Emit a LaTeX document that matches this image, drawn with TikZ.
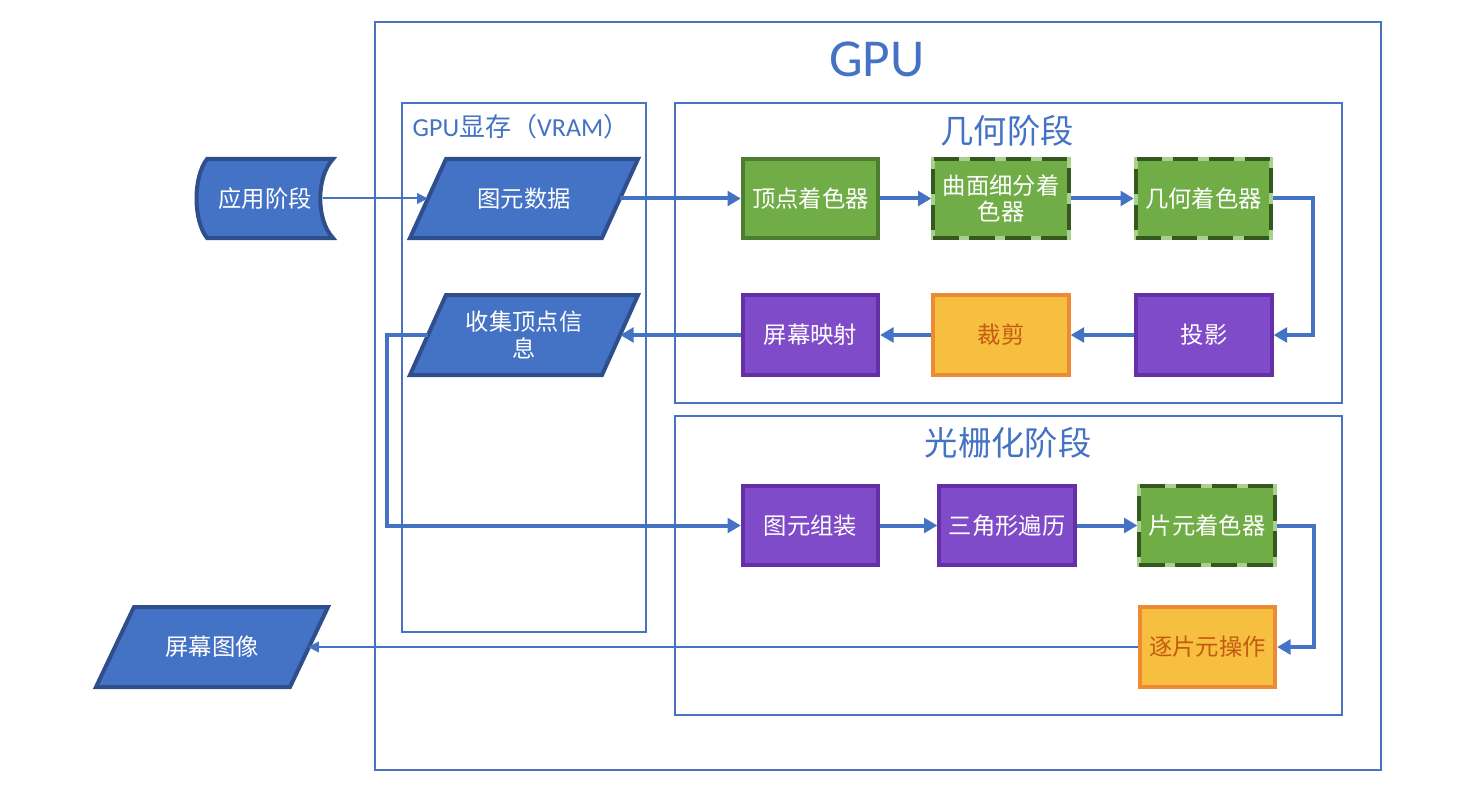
\documentclass[tikz,border=0pt]{standalone}
\usepackage{fontspec}
\setmainfont{Noto Sans CJK SC}
\newfontfamily\lat{Carlito}
\usetikzlibrary{arrows.meta}
\definecolor{frameblue}{HTML}{4A72C0}
\definecolor{arrblue}{HTML}{4472C4}
\definecolor{bfill}{HTML}{4472C4}
\definecolor{bdraw}{HTML}{2F4F8C}
\definecolor{gfill}{HTML}{70AD47}
\definecolor{gdraw}{HTML}{4E7D32}
\definecolor{gdash}{HTML}{35581F}
\definecolor{glight}{HTML}{A9D18E}
\definecolor{pfill}{HTML}{804BC8}
\definecolor{pdraw}{HTML}{6530A5}
\definecolor{ofill}{HTML}{F6BF3F}
\definecolor{odraw}{HTML}{EC8A35}
\definecolor{otext}{HTML}{C55A11}
\tikzset{
  frame/.style={draw=frameblue,line width=1.1pt},
  boxfont/.style={font=\fontsize{17.5}{20}\selectfont},
  stagebox/.style={rectangle,minimum width=101.5pt,minimum height=59.5pt,line width=3pt,
    align=center,boxfont,inner sep=1pt},
  greenbox/.style={stagebox,fill=gfill,draw=gdraw,text=white},
  greendash/.style={stagebox,fill=gfill,draw=glight,text=white,
    postaction={draw=gdash,line width=3pt,dash pattern=on 19pt off 8pt}},
  purplebox/.style={stagebox,fill=pfill,draw=pdraw,text=white},
  orangebox/.style={stagebox,fill=ofill,draw=odraw,text=otext},
  datashape/.style={fill=bfill,draw=bdraw,line width=3pt,line join=miter},
  datatext/.style={rectangle,minimum width=144pt,minimum height=59.5pt,text=white,
    align=center,boxfont,inner sep=1pt},
  thick arrow/.style={draw=arrblue,line width=3pt,-{Triangle[length=10pt,width=11pt]}},
  thin arrow/.style={draw=arrblue,line width=1.5pt,-{Triangle[length=8pt,width=8pt]}},
  title/.style={text=arrblue,font=\fontsize{25}{28}\selectfont},
}
\begin{document}
\begin{tikzpicture}[x=0.75pt,y=-0.75pt]
\useasboundingbox[fill=white] (0,0) rectangle (1478,806);
% frames
\draw[frame] (375,22) rectangle (1381,770);
\draw[frame] (402,103) rectangle (646,632);
\draw[frame] (675,103) rectangle (1342,403);
\draw[frame] (675,416) rectangle (1342,715);
\node[text=arrblue,font=\lat\fontsize{40}{44}\selectfont] (gputitle) at (877,59) {GPU};
\node[text=arrblue,font=\fontsize{19.5}{23}\selectfont] (vramtitle) at (521,127) {{\lat GPU}显存（{\lat VRAM}）};
\node[title] (geotitle) at (1007,131) {几何阶段};
\node[title] (rastitle) at (1008,443) {光栅化阶段};
% application stage (stored data shape)
\filldraw[datashape]
  (207,159) -- (333,159) .. controls (316,177) and (316,220) .. (333,238)
  -- (207,238) .. controls (193,220) and (193,177) .. (207,159) -- cycle;
\node[minimum width=86pt,minimum height=59.5pt,text=white,boxfont] (app) at (265,198.5) {应用阶段};
% data shapes (parallelograms)
\filldraw[datashape] (446,159) -- (638,159) -- (602,238) -- (410,238) -- cycle;
\filldraw[datashape] (446,295) -- (638,295) -- (602,375) -- (410,375) -- cycle;
\filldraw[datashape] (134,607) -- (328,607) -- (290,687) -- (96,687) -- cycle;
\node[datatext] (prim) at (524,198.5) {图元数据};
\node[datatext] (col) at (524,335) {收集顶点信\\息};
\node[datatext] (img) at (212,647) {屏幕图像};
% geometry stage
\node[greenbox] (vs) at (810.5,198.5) {顶点着色器};
\node[greendash] (ts) at (1001,198.5) {曲面细分着\\色器};
\node[greendash] (gs) at (1203.5,198.5) {几何着色器};
\node[purplebox] (proj) at (1204,335) {投影};
\node[orangebox] (clip) at (1001,335) {裁剪};
\node[purplebox] (sm) at (810.5,335) {屏幕映射};
% raster stage
\node[purplebox] (pa) at (810.5,525.5) {图元组装};
\node[purplebox] (tt) at (1007,525.5) {三角形遍历};
\node[greendash] (fs) at (1207,525.5) {片元着色器};
\node[orangebox] (fo) at (1207.5,647) {逐片元操作};
% connectors
\draw[thin arrow] (app.east) -- (prim.west);
\draw[thick arrow] (prim.east) -- (vs.west);
\draw[thick arrow] (vs) -- (ts);
\draw[thick arrow] (ts) -- (gs);
\draw[thick arrow] (gs.east) -- ++(40,0) |- (proj.east);
\draw[thick arrow] (proj) -- (clip);
\draw[thick arrow] (clip) -- (sm);
\draw[thick arrow] (sm.west) -- (col.east);
\draw[thick arrow] (col.west) -- ++(-41,0) |- (pa.west);
\draw[thick arrow] (pa) -- (tt);
\draw[thick arrow] (tt) -- (fs);
\draw[thick arrow] (fs.east) -- ++(37,0) |- (fo.east);
\draw[thin arrow] (fo.west) -- (img.east);
\end{tikzpicture}
\end{document}
